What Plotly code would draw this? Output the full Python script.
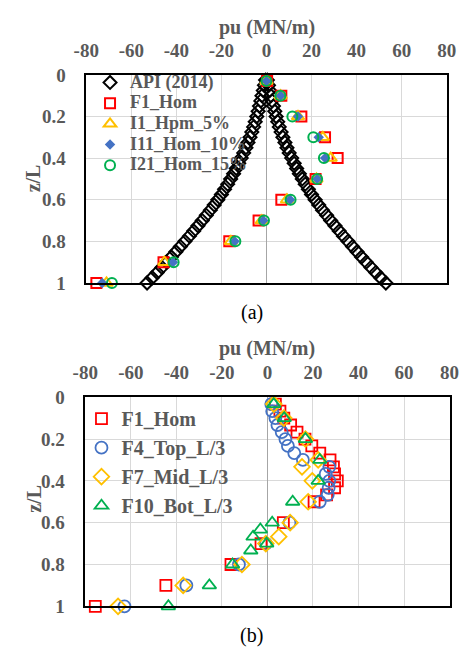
import plotly.graph_objects as go

W, H = 470, 657
SERIF = "Liberation Serif, Times New Roman, serif"
GRAY = "#595959"

# ---------------- data: chart (a) ----------------
api_z = [0.025, 0.05, 0.075, 0.1, 0.125, 0.15, 0.175, 0.2, 0.225, 0.25,
         0.275, 0.3, 0.325, 0.35, 0.375, 0.4, 0.425, 0.45, 0.475, 0.5,
         0.525, 0.55, 0.575, 0.6, 0.625, 0.65, 0.675, 0.7, 0.725, 0.75,
         0.775, 0.8, 0.825, 0.85, 0.875, 0.9, 0.925, 0.95, 0.975, 1.0]
api_pu = [0.4, 0.9, 1.4, 2.0, 2.5, 3.1, 3.7, 4.3, 5.0, 5.7,
          6.5, 7.3, 8.2, 9.1, 10.1, 11.2, 12.3, 13.4, 14.6, 15.9,
          17.2, 18.6, 20.0, 21.6, 23.2, 24.9, 26.7, 28.5, 30.4, 32.3,
          34.2, 36.2, 38.2, 40.2, 42.2, 44.3, 46.4, 48.5, 50.7, 53.0]

a_z = [0.03, 0.1, 0.2, 0.3, 0.4, 0.5, 0.6, 0.7, 0.8, 0.9, 1.0]
a_F1_Hom = [0.3, 6.6, 15.5, 26.0, 31.6, 21.8, 6.6, -3.5, -16.5, -45.7, -75.5]
a_I1_Hpm_5 = [0.0, 6.3, 14.0, 25.0, 28.5, 22.2, 9.1, -2.1, -15.8, -45.3, -71.0]
a_I11_Hom_10 = [0.0, 6.3, 14.0, 23.2, 26.0, 22.5, 10.5, -1.4, -14.1, -41.5, -72.9]
a_I21_Hom_15 = [0.0, 6.2, 11.5, 20.8, 25.5, 22.5, 10.7, -1.1, -13.8, -41.2, -68.6]

# ---------------- data: chart (b) ----------------
b_F1_z = [0.033, 0.067, 0.1, 0.133, 0.167, 0.2, 0.233, 0.267, 0.3, 0.333,
          0.367, 0.4, 0.433, 0.467, 0.5, 0.6, 0.7, 0.8, 0.9, 1.0]
b_F1_pu = [3.5, 5.5, 7.2, 10.2, 13.0, 16.5, 19.5, 23.0, 27.5, 29.0,
           29.5, 30.7, 29.5, 26.0, 20.5, 7.0, -2.8, -16.0, -44.6, -75.6]

b_F4_z = [0.033, 0.067, 0.1, 0.133, 0.167, 0.2, 0.233, 0.267, 0.3, 0.333,
          0.367, 0.4, 0.433, 0.467, 0.5, 0.6, 0.7, 0.8, 0.9, 1.0]
b_F4_pu = [1.7, 2.1, 3.5, 4.4, 6.3, 7.9, 9.0, 11.8, 15.6, 27.2,
           25.6, 27.2, 26.9, 26.5, 23.0, 9.7, -0.7, -12.5, -35.6, -62.8]

b_F7_z = [0.033, 0.1, 0.2, 0.3, 0.333, 0.4, 0.5, 0.6, 0.667, 0.7, 0.8, 0.9, 1.0]
b_F7_pu = [2.8, 7.2, 16.7, 22.3, 15.2, 19.7, 17.9, 10.0, 5.0, -0.7, -11.2, -37.0, -65.6]

b_F10_z = [0.033, 0.1, 0.2, 0.3, 0.4, 0.5, 0.6, 0.633, 0.667, 0.7, 0.733, 0.8, 0.9, 1.0]
b_F10_pu = [2.8, 7.4, 16.7, 23.0, 22.3, 11.1, 2.1, -3.1, -6.3, -0.3, -7.3, -15.3, -25.5, -43.5]

x_ticks = [-80, -60, -40, -20, 0, 20, 40, 60, 80]
x_ticktext = ["-80", "-60", "-40", "-20", "0", "20", "40", "60", "80"]
y_ticks = [0, 0.2, 0.4, 0.6, 0.8, 1.0]
y_ticktext = ["0", "0.2", "0.4", "0.6", "0.8", "1"]

# ---------------- colours ----------------
RED = "#FF0000"
YEL = "#FFC000"
BLUE = "#4472C4"
GREEN = "#00B050"

fig = go.Figure()

def hollow(color, size, lw=1.8):
    return dict(color="rgba(0,0,0,0)", size=size, line=dict(color=color, width=lw))

def nm(text, px):
    return '<span style="font-size:%dpx">%s</span>' % (px, text)

# chart (a)
fig.add_trace(go.Scatter(
    x=api_pu + [-v for v in api_pu], y=api_z + api_z, mode="markers",
    name=nm("API (2014)", 18), marker=dict(symbol="diamond", **hollow("black", 10, 2)),
    xaxis="x", yaxis="y", legend="legend", cliponaxis=False))
fig.add_trace(go.Scatter(x=a_F1_Hom, y=a_z, mode="markers", name=nm("F1_Hom", 18),
    marker=dict(symbol="square", **hollow(RED, 10, 2)),
    xaxis="x", yaxis="y", legend="legend", cliponaxis=False))
fig.add_trace(go.Scatter(x=a_I1_Hpm_5, y=a_z, mode="markers", name=nm("I1_Hpm_5%", 18),
    marker=dict(symbol="triangle-up", **hollow(YEL, 11, 2)),
    xaxis="x", yaxis="y", legend="legend", cliponaxis=False))
fig.add_trace(go.Scatter(x=a_I11_Hom_10, y=a_z, mode="markers", name=nm("I11_Hom_10%", 18),
    marker=dict(symbol="diamond", color=BLUE, size=8, line=dict(width=0)),
    xaxis="x", yaxis="y", legend="legend", cliponaxis=False))
fig.add_trace(go.Scatter(x=a_I21_Hom_15, y=a_z, mode="markers", name=nm("I21_Hom_15%", 18),
    marker=dict(symbol="circle", **hollow(GREEN, 10, 2)),
    xaxis="x", yaxis="y", legend="legend", cliponaxis=False))

# chart (b)
fig.add_trace(go.Scatter(x=b_F1_pu, y=b_F1_z, mode="markers", name="F1_Hom",
    marker=dict(symbol="square", **hollow(RED, 11, 1.8)),
    xaxis="x2", yaxis="y2", legend="legend2", cliponaxis=False))
fig.add_trace(go.Scatter(x=b_F4_pu, y=b_F4_z, mode="markers", name="F4_Top_L/3",
    marker=dict(symbol="circle", **hollow(BLUE, 12, 1.8)),
    xaxis="x2", yaxis="y2", legend="legend2", cliponaxis=False))
fig.add_trace(go.Scatter(x=b_F7_pu, y=b_F7_z, mode="markers", name="F7_Mid_L/3",
    marker=dict(symbol="diamond", **hollow(YEL, 12, 1.8)),
    xaxis="x2", yaxis="y2", legend="legend2", cliponaxis=False))
fig.add_trace(go.Scatter(x=b_F10_pu, y=b_F10_z, mode="markers", name="F10_Bot_L/3",
    marker=dict(symbol="triangle-up", **hollow(GREEN, 12, 1.8)),
    xaxis="x2", yaxis="y2", legend="legend2", cliponaxis=False))

tickfont = dict(family=SERIF, size=19, color=GRAY, weight="bold")

def xax(dom, anchor):
    return dict(domain=dom, anchor=anchor, side="top", range=[-80, 80],
                tickvals=x_ticks, ticktext=x_ticktext,
                showgrid=True, gridcolor="#d9d9d9", gridwidth=1,
                zeroline=True, zerolinecolor="#a6a6a6", zerolinewidth=1,
                showline=True, mirror=True, linecolor="black", linewidth=1.5,
                ticks="", ticklabelstandoff=9, tickfont=tickfont, fixedrange=True)

def yax(dom, anchor):
    return dict(domain=dom, anchor=anchor, range=[1, 0],
                tickvals=y_ticks, ticktext=y_ticktext,
                showgrid=True, gridcolor="#d9d9d9", gridwidth=1, zeroline=False,
                showline=True, mirror=True, linecolor="black", linewidth=1.5,
                ticks="", ticklabelstandoff=15, tickfont=tickfont, fixedrange=True)

fig.update_layout(
    width=W, height=H, margin=dict(l=0, r=0, t=0, b=0),
    paper_bgcolor="white", plot_bgcolor="white",
    xaxis=xax([77 / W, 456 / W], "y"),
    yaxis=yax([1 - 282 / H, 1 - 67 / H], "x"),
    xaxis2=xax([76 / W, 459 / W], "y2"),
    yaxis2=yax([1 - 616 / H, 1 - 400 / H], "x2"),
    legend=dict(x=81 / W, y=1 - 59 / H, xanchor="left", yanchor="top",
                bgcolor="rgba(0,0,0,0)", borderwidth=0,
                font=dict(family=SERIF, size=13.6, color=GRAY, weight="bold"),
                itemsizing="trace"),
    legend2=dict(x=72 / W, y=1 - 402 / H, xanchor="left", yanchor="top",
                 bgcolor="rgba(0,0,0,0)", borderwidth=0,
                 font=dict(family=SERIF, size=20, color=GRAY, weight="bold"),
                 itemsizing="trace"),
    showlegend=True,
)

ann_font = dict(family=SERIF, size=20, color=GRAY, weight="bold")
annotations = [
    dict(text="pu (MN/m)", x=266.7 / W, y=1 - 18 / H, font=ann_font),
    dict(text="pu (MN/m)", x=266.7 / W, y=1 - 350 / H, font=ann_font),
    dict(text="z/L", x=22 / W, y=1 - 174 / H, font=ann_font, textangle=-90),
    dict(text="z/L", x=22 / W, y=1 - 505 / H, font=ann_font, textangle=-90),
    dict(text="(a)", x=251 / W, y=1 - 313 / H,
         font=dict(family=SERIF, size=20, color="black")),
    dict(text="(b)", x=251 / W, y=1 - 646 / H,
         font=dict(family=SERIF, size=20, color="black")),
]
for a in annotations:
    a.update(xref="paper", yref="paper", showarrow=False,
             xanchor="center", yanchor="middle")
fig.update_layout(annotations=annotations)

fig.write_html("out.html")
